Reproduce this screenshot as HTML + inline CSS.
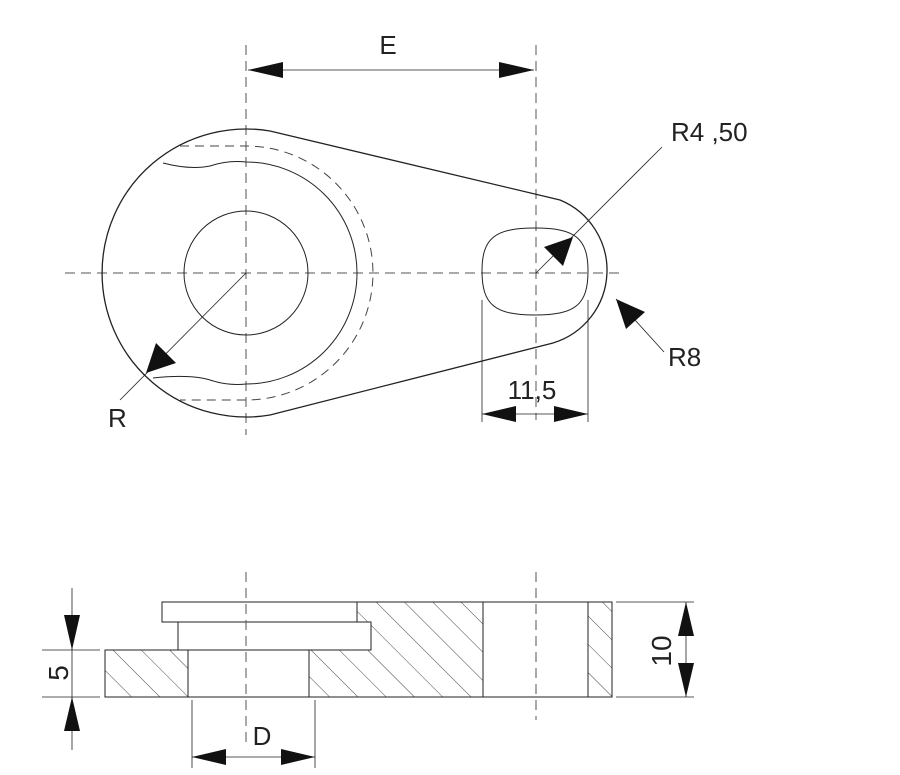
<!DOCTYPE html>
<html><head><meta charset="utf-8"><style>html,body{margin:0;padding:0;background:#fff}svg{display:block}text{font-family:"Liberation Sans",sans-serif;fill:#222}</style></head>
<body>
<svg width="900" height="775" viewBox="0 0 900 775" xmlns="http://www.w3.org/2000/svg">
<defs>
<pattern id="h" patternUnits="userSpaceOnUse" width="20" height="20" patternTransform="rotate(-45)">
<line x1="0" y1="0" x2="0" y2="20" stroke="#333" stroke-width="0.9"/>
</pattern>
</defs>
<g fill="none" stroke="#222">
<g stroke="#555" stroke-width="1" stroke-dasharray="10,6">
<line x1="246" y1="45" x2="246" y2="435"/>
<line x1="536" y1="45" x2="536" y2="420"/>
<line x1="65" y1="273" x2="620" y2="273"/>
</g>
<path d="M270,131 L560,200 A76,76 0 0 1 553,343 L270,415 A144,144 0 1 1 270,131 Z" stroke-width="1.3"/>
<circle cx="246" cy="273" r="62" stroke-width="1"/>
<path d="M163,163 Q190,170 210,166 Q228,160 246,162 A111,111 0 0 1 246,384 Q228,386 210,380 Q190,374 153,378" stroke-width="1"/>
<path d="M180,146 L246,146 A127,127 0 0 1 246,400 L180,400" stroke-width="1" stroke-dasharray="9,6" stroke="#444"/>
<path d="M535,228 C575,228 588,238 588,271 C588,305 575,315 535,315 C495,315 482,305 482,271 C482,238 495,228 535,228 Z" stroke-width="1"/>
<g stroke-width="0.8">
<line x1="248" y1="70" x2="534" y2="70"/>
<line x1="482" y1="300" x2="482" y2="422"/>
<line x1="588" y1="300" x2="588" y2="422"/>
<line x1="482" y1="414" x2="588" y2="414"/>
<line x1="662" y1="147" x2="536" y2="273"/>
<line x1="664" y1="352" x2="616" y2="299"/>
<line x1="246" y1="273" x2="120" y2="400"/>
</g>
</g>
<g fill="#111">
<polygon points="248,70 283,62 283,78"/>
<polygon points="534,70 499,62 499,78"/>
<polygon points="482,414 516,406 516,422"/>
<polygon points="588,414 554,406 554,422"/>
<polygon points="573,237 563,266 544,247"/>
<polygon points="616,299 645,312 626,329"/>
<polygon points="146,373 156,343 176,363"/>
</g>
<text x="388" y="54" font-size="26" text-anchor="middle">E</text>
<text x="671" y="141" font-size="26">R4 ,50</text>
<text x="668" y="366" font-size="26">R8</text>
<text x="108" y="427" font-size="26">R</text>
<text x="532" y="399" font-size="26" text-anchor="middle">11,5</text>
<g stroke="#222" stroke-width="1">
<path d="M105,650 H188 V697 H105 Z" fill="url(#h)"/>
<path d="M309,650 H371 V622 H357 V602 H483 V697 H309 Z" fill="url(#h)"/>
<rect x="588" y="602" width="24" height="95" fill="url(#h)"/>
<rect x="162" y="602" width="195" height="20" fill="#fff"/>
<rect x="178" y="622" width="193" height="28" fill="#fff"/>
<rect x="188" y="650" width="121" height="47" fill="none"/>
<rect x="483" y="602" width="105" height="95" fill="none"/>
</g>
<g stroke="#555" stroke-width="1" stroke-dasharray="10,6" fill="none">
<line x1="246" y1="572" x2="246" y2="745"/>
<line x1="536" y1="572" x2="536" y2="720"/>
</g>
<g stroke="#222" stroke-width="0.8" fill="none">
<line x1="42" y1="650" x2="100" y2="650"/>
<line x1="42" y1="697" x2="100" y2="697"/>
<line x1="72" y1="588" x2="72" y2="750"/>
<line x1="616" y1="602" x2="694" y2="602"/>
<line x1="616" y1="697" x2="694" y2="697"/>
<line x1="686" y1="602" x2="686" y2="697"/>
<line x1="192" y1="700" x2="192" y2="768"/>
<line x1="315" y1="700" x2="315" y2="768"/>
<line x1="192" y1="757" x2="315" y2="757"/>
</g>
<g fill="#111">
<polygon points="72,650 64,615 80,615"/>
<polygon points="72,697 64,731 80,731"/>
<polygon points="686,602 678,636 694,636"/>
<polygon points="686,697 678,663 694,663"/>
<polygon points="192,757 226,749 226,765"/>
<polygon points="315,757 281,749 281,765"/>
</g>
<text x="262" y="745" font-size="26" text-anchor="middle">D</text>
<text x="0" y="0" font-size="28" text-anchor="middle" transform="translate(68,673) rotate(-90)">5</text>
<text x="0" y="0" font-size="28" text-anchor="middle" transform="translate(671,651) rotate(-90)">10</text>
</svg>
</body></html>
